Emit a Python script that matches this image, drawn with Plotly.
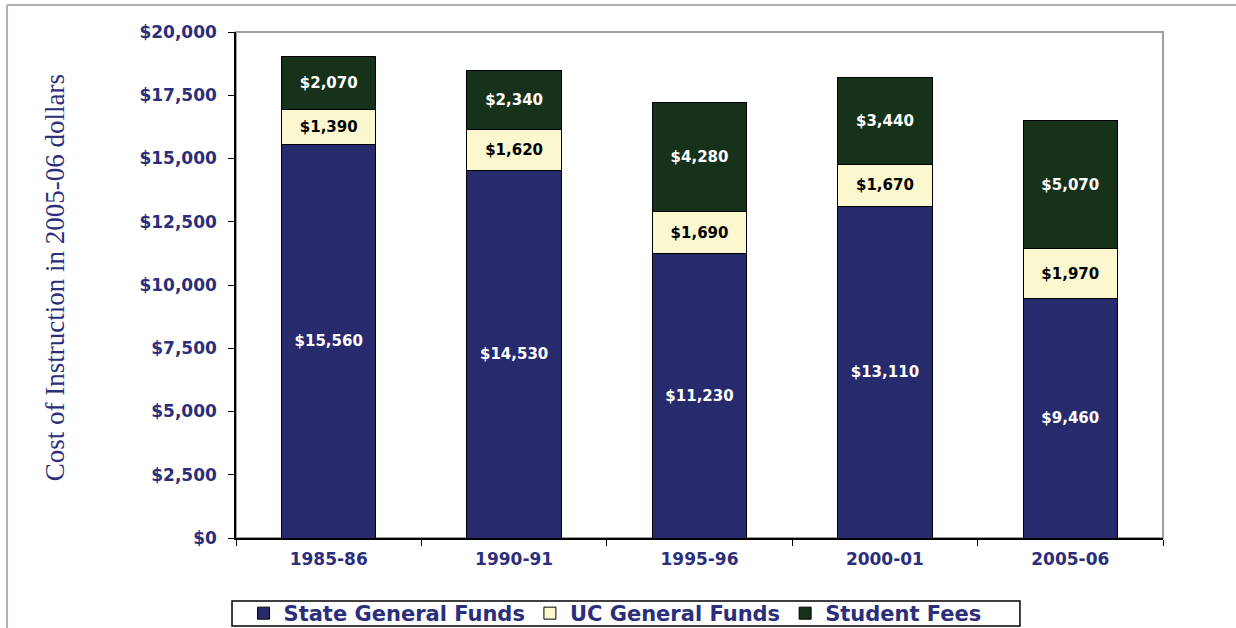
import plotly.graph_objects as go

years = ["1985-86", "1990-91", "1995-96", "2000-01", "2005-06"]
state_funds = [15560, 14530, 11230, 13110, 9460]
uc_funds = [1390, 1620, 1690, 1670, 1970]
student_fees = [2070, 2340, 4280, 3440, 5070]
y_ticks = [0, 2500, 5000, 7500, 10000, 12500, 15000, 17500, 20000]

NAVY = "#272A6D"
CREAM = "#FBF7CF"
GREEN = "#16321B"
TXT = "#2B2E7A"
BOLD = "DejaVu Sans, Verdana"

series = [
    ("State General Funds", state_funds, NAVY, "white"),
    ("UC General Funds", uc_funds, CREAM, "black"),
    ("Student Fees", student_fees, GREEN, "white"),
]

fig = go.Figure()
for name, vals, color, tcolor in series:
    fig.add_trace(go.Bar(
        x=years, y=vals, name=name,
        marker=dict(color=color, line=dict(color="black", width=1)),
        text=[f"${v:,}" for v in vals],
        textposition="inside", insidetextanchor="middle",
        textangle=0, constraintext="none",
        textfont=dict(family=BOLD, size=15, color=tcolor, weight="bold"),
    ))

fig.update_layout(
    barmode="stack", bargap=0.49,
    width=1236, height=628,
    margin=dict(l=236, r=73, t=32, b=90),
    paper_bgcolor="white", plot_bgcolor="white",
    font=dict(family=BOLD, color=TXT),
    legend=dict(
        orientation="h", xref="container", yref="container",
        x=0.4976, xanchor="center", y=0.0231, yanchor="middle",
        bgcolor="rgba(0,0,0,0)", borderwidth=0,
        font=dict(size=21, color=TXT, weight="bold"),
        traceorder="normal", itemwidth=30,
    ),
    showlegend=True,
)
fig.update_xaxes(
    type="category", automargin=False,
    showline=True, linecolor="black", linewidth=1.5,
    ticks="outside", tickson="boundaries", ticklen=6, tickcolor="black",
    ticklabelstandoff=5,
    tickfont=dict(size=17, color=TXT, weight="bold"),
    showgrid=False,
)
fig.update_yaxes(
    range=[0, 20000], tickvals=y_ticks, automargin=False,
    ticktext=[f"${v:,}" for v in y_ticks],
    showline=True, linecolor="black", linewidth=1.5,
    ticks="outside", ticklen=6, tickcolor="black",
    ticklabelstandoff=8,
    tickfont=dict(size=17, color=TXT, weight="bold"),
    showgrid=False, zeroline=False,
)
# gray plot border (top/right)
fig.add_shape(type="rect", xref="paper", yref="paper", x0=0, y0=0, x1=1, y1=1,
              line=dict(color="#A0A0A0", width=2), layer="below")
# outer frame lines
fig.add_shape(type="line", xref="paper", yref="paper", x0=-0.247, x1=1.1, y0=1.0534, y1=1.0534,
              line=dict(color="#B0B0B0", width=2))
fig.add_shape(type="line", xref="paper", yref="paper", x0=-0.247, x1=-0.247, y0=1.0534, y1=-0.2,
              line=dict(color="#B0B0B0", width=2))
# legend box
fig.add_shape(type="rect", xref="paper", yref="paper", x0=-0.0043, x1=0.8457, y0=-0.1739, y1=-0.1245,
              line=dict(color="black", width=1.5), fillcolor="rgba(0,0,0,0)")
fig.add_annotation(
    text="Cost of Instruction in 2005-06 dollars", textangle=-90,
    xref="paper", yref="paper", x=-0.195, y=0.514, xanchor="center", showarrow=False,
    font=dict(family="Liberation Serif, Times New Roman", size=27, color=TXT),
)

fig.write_html("out.html", config={"displayModeBar": False},
               post_script="document.body.style.margin='0';")
